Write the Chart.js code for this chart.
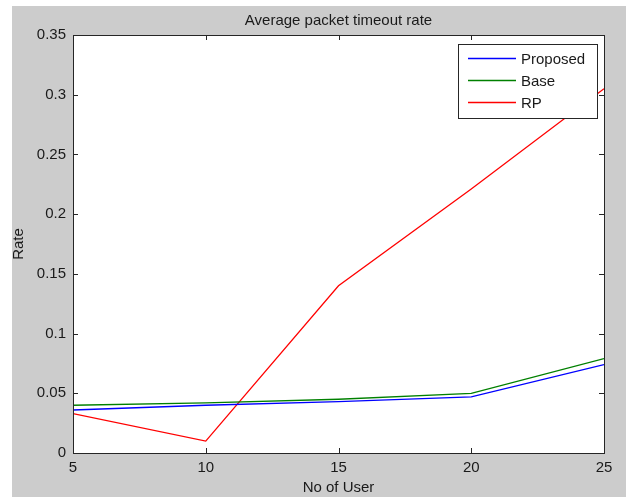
<!DOCTYPE html>
<html>
<head>
<meta charset="utf-8">
<script src="https://cdn.jsdelivr.net/npm/chart.js@4"></script>
<style>
  html, body { margin: 0; padding: 0; background: #fff; }
  #wrap { width: 626px; height: 497px; }
</style>
</head>
<body>
<div id="wrap"><canvas id="my-chart" width="626" height="497"></canvas></div>
<script>
// chart data
const users = [5, 10, 15, 20, 25];
const proposed = [0.036, 0.040, 0.043, 0.047, 0.074];
const base = [0.040, 0.042, 0.045, 0.050, 0.079];
const rp = [0.033, 0.010, 0.140, 0.221, 0.305];
const yTicks = [0, 0.05, 0.1, 0.15, 0.2, 0.25, 0.3, 0.35];
const xTicks = [5, 10, 15, 20, 25];

const FONT = '"Liberation Sans", Arial, sans-serif';
const TEXT = '#1a1a1a';

const toPoints = (vals) => users.map((u, i) => ({ x: u, y: vals[i] }));

// matlab style frame: grey figure, white axes, box with inner ticks, legend box
const matlabFrame = {
  id: 'matlabFrame',
  beforeDraw(chart) {
    const { ctx, chartArea: a } = chart;
    ctx.save();
    ctx.fillStyle = '#fff';
    ctx.fillRect(0, 0, chart.width, chart.height);
    ctx.fillStyle = '#cccccc';
    ctx.fillRect(12, 6, chart.width - 12, chart.height - 6);
    ctx.fillStyle = '#fff';
    ctx.fillRect(a.left, a.top, a.right - a.left, a.bottom - a.top);
    ctx.restore();
  },
  afterDraw(chart) {
    const { ctx, chartArea: a, scales } = chart;
    ctx.save();
    // box
    ctx.strokeStyle = '#262626';
    ctx.lineWidth = 1;
    ctx.strokeRect(Math.round(a.left) + 0.5, Math.round(a.top) + 0.5,
      Math.round(a.right - a.left), Math.round(a.bottom - a.top));
    // inner ticks
    ctx.beginPath();
    xTicks.forEach(v => {
      const x = Math.round(scales.x.getPixelForValue(v)) + 0.5;
      ctx.moveTo(x, a.bottom); ctx.lineTo(x, a.bottom - 5);
      ctx.moveTo(x, a.top); ctx.lineTo(x, a.top + 5);
    });
    yTicks.forEach(v => {
      const y = Math.round(scales.y.getPixelForValue(v)) + 0.5;
      ctx.moveTo(a.left, y); ctx.lineTo(a.left + 5, y);
      ctx.moveTo(a.right, y); ctx.lineTo(a.right - 5, y);
    });
    ctx.stroke();

    // title and axis titles
    ctx.fillStyle = TEXT;
    ctx.font = '15px ' + FONT;
    ctx.textAlign = 'center';
    ctx.textBaseline = 'middle';
    ctx.fillText('Average packet timeout rate', (a.left + a.right) / 2, 21);
    ctx.fillText('No of User', (a.left + a.right) / 2, 488);
    ctx.save();
    ctx.translate(19, (a.top + a.bottom) / 2);
    ctx.rotate(-Math.PI / 2);
    ctx.fillText('Rate', 0, 0);
    ctx.restore();

    // legend
    const lx = 458, ly = 44, lw = 139, lh = 74;
    ctx.fillStyle = '#fff';
    ctx.fillRect(lx, ly, lw, lh);
    ctx.strokeStyle = '#262626';
    ctx.strokeRect(lx + 0.5, ly + 0.5, lw, lh);
    ctx.textAlign = 'left';
    chart.data.datasets.forEach((ds, i) => {
      const y = 58.5 + i * 22;
      ctx.strokeStyle = ds.borderColor;
      ctx.lineWidth = 1.3;
      ctx.beginPath();
      ctx.moveTo(468, y); ctx.lineTo(516, y);
      ctx.stroke();
      ctx.fillStyle = TEXT;
      ctx.fillText(ds.label, 521, y + 1);
    });
    ctx.restore();
  }
};

const ctx = document.getElementById('my-chart').getContext('2d');

const myChart = new Chart(ctx, {
  type: 'line',
  data: {
    datasets: [
      { label: 'Proposed', data: toPoints(proposed), borderColor: '#0000ff' },
      { label: 'Base', data: toPoints(base), borderColor: '#008000' },
      { label: 'RP', data: toPoints(rp), borderColor: '#ff0000' }
    ]
  },
  options: {
    responsive: false,
    animation: false,
    events: [],
    elements: {
      line: { borderWidth: 1.3, tension: 0, fill: false },
      point: { radius: 0 }
    },
    layout: { padding: { left: 12, top: 35, right: 22, bottom: 0 } },
    plugins: {
      legend: { display: false },
      title: { display: false },
      tooltip: { enabled: false }
    },
    scales: {
      x: {
        type: 'linear',
        min: 5,
        max: 25,
        afterFit: (s) => { s.height = 44; },
        afterBuildTicks: (s) => { s.ticks = xTicks.map(v => ({ value: v })); },
        grid: { display: false, drawTicks: false },
        border: { display: false },
        ticks: { color: TEXT, font: { family: FONT, size: 15 }, padding: 6, maxRotation: 0 }
      },
      y: {
        type: 'linear',
        min: 0,
        max: 0.35,
        afterFit: (s) => { s.width = 61; },
        afterBuildTicks: (s) => { s.ticks = yTicks.map(v => ({ value: v })); },
        grid: { display: false, drawTicks: false },
        border: { display: false },
        ticks: {
          color: TEXT,
          font: { family: FONT, size: 15 },
          padding: 7,
          callback: (v) => String(+v.toFixed(2))
        }
      }
    }
  },
  plugins: [matlabFrame]
});
</script>
</body>
</html>
